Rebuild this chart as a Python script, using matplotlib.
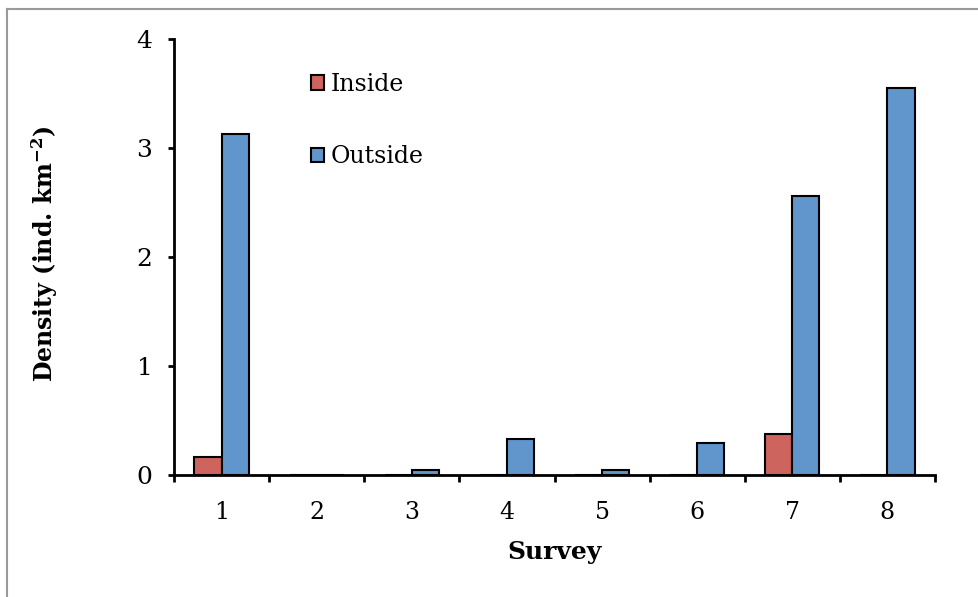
import numpy as np
import matplotlib
matplotlib.use("Agg")
import matplotlib.pyplot as plt
from matplotlib.lines import Line2D

surveys = ["1", "2", "3", "4", "5", "6", "7", "8"]
inside = [0.165, 0.0, 0.0, 0.0, 0.0, 0.0, 0.375, 0.0]
outside = [3.13, 0.0, 0.05, 0.33, 0.05, 0.29, 2.56, 3.55]
yticks = [0, 1, 2, 3, 4]

red = "#CD645E"
blue = "#6096CB"

plt.rcParams["font.family"] = ["DejaVu Serif"]
plt.rcParams["mathtext.fontset"] = "dejavuserif"

fig = plt.figure(figsize=(9.79, 5.97), dpi=100)
ax = fig.add_axes([174 / 979, 1 - 475 / 597, (935 - 174) / 979, (475 - 39) / 597])

x = np.arange(len(surveys))
w = 0.285
ax.bar(x - w / 2, inside, width=w, color=red, edgecolor="black", linewidth=1.5,
       label="Inside", zorder=3)
ax.bar(x + w / 2, outside, width=w, color=blue, edgecolor="black", linewidth=1.5,
       label="Outside", zorder=3)

ax.set_xlim(-0.5, len(surveys) - 0.5)
ax.set_ylim(0, 4)
ax.set_yticks(yticks)
ax.set_yticklabels([str(t) for t in yticks], fontsize=18)
ax.set_xticks(x)
ax.set_xticklabels(surveys, fontsize=17)
ax.set_xticks(np.arange(len(surveys) + 1) - 0.5, minor=True)
ax.tick_params(axis="x", which="major", length=0, pad=19)
ax.tick_params(axis="x", which="minor", length=5, width=2, direction="out")
ax.tick_params(axis="y", which="major", length=4.5, width=2, direction="out", pad=11)

for s in ["top", "right"]:
    ax.spines[s].set_visible(False)
for s in ["left", "bottom"]:
    ax.spines[s].set_linewidth(2)
ax.spines["bottom"].set_zorder(4)

ax.set_xlabel("Survey", fontsize=18, fontweight="bold")
ax.xaxis.set_label_coords(0.5, (475 - 540) / 436)
ax.set_ylabel("Density (ind. km$^{\\mathbf{-2}}$)", fontsize=17, fontweight="bold")
ax.yaxis.set_label_coords((60 - 174) / 761, (475 - 254) / 436)

leg = fig.legend(loc="upper left", bbox_to_anchor=(299 / 979, 1 - 61 / 597),
                 frameon=False, fontsize=17, handlelength=0.55, handleheight=0.55,
                 handletextpad=0.3, labelspacing=2.1, borderpad=0)

# light frame around the figure
fig.add_artist(Line2D([7 / 979, 1], [1 - 8.5 / 597, 1 - 8.5 / 597], color="#9a9a9a",
                      linewidth=1.5, transform=fig.transFigure))
fig.add_artist(Line2D([7.5 / 979, 7.5 / 979], [0, 1 - 8.5 / 597], color="#9a9a9a",
                      linewidth=1.5, transform=fig.transFigure))

fig.savefig("out.png", dpi=100)
